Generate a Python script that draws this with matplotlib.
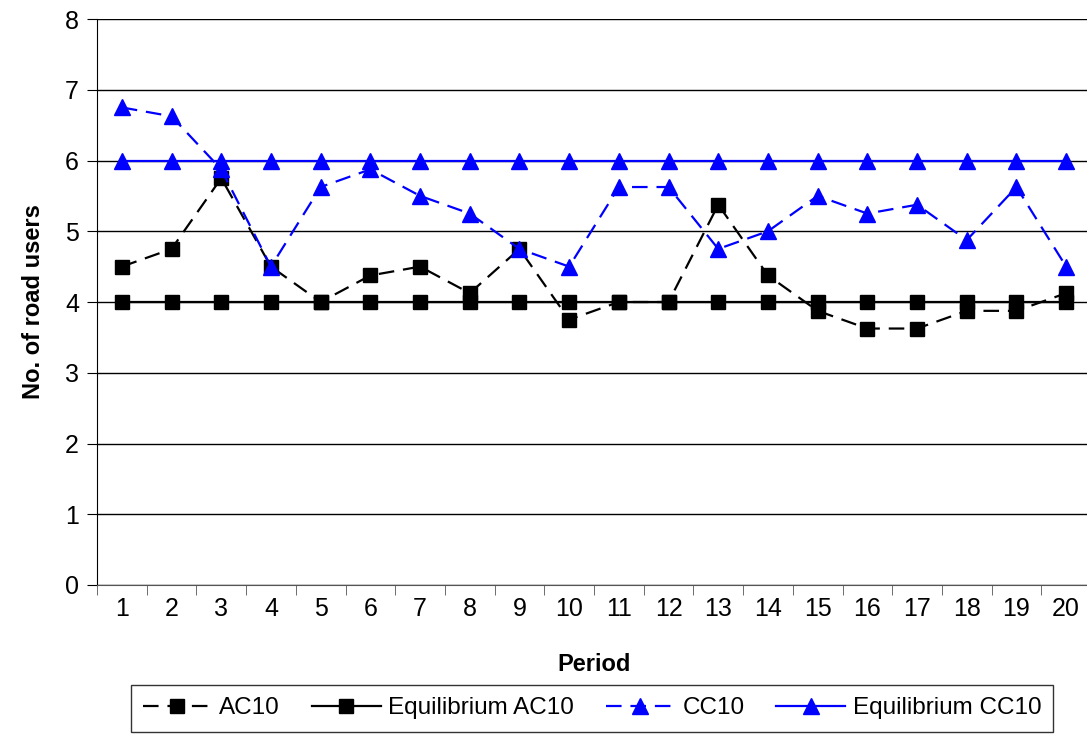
"""Road users per period: AC10 / CC10 against their equilibrium levels."""

import matplotlib

matplotlib.use("Agg")
import matplotlib.pyplot as plt

plt.rcParams["font.family"] = ["Liberation Sans", "DejaVu Sans"]

periods = list(range(1, 21))
ac10 = [4.5, 4.75, 5.75, 4.5, 4.0, 4.375, 4.5, 4.125, 4.75, 3.75,
        4.0, 4.0, 5.375, 4.375, 3.875, 3.625, 3.625, 3.875, 3.875, 4.125]
eq_ac10 = [4.0] * 20
cc10 = [6.75, 6.625, 5.875, 4.5, 5.625, 5.875, 5.5, 5.25, 4.75, 4.5,
        5.625, 5.625, 4.75, 5.0, 5.5, 5.25, 5.375, 4.875, 5.625, 4.5]
eq_cc10 = [6.0] * 20

fig = plt.figure(figsize=(10.87, 7.34), dpi=100)
ax = fig.add_axes([97 / 1087, 149 / 734, 994 / 1087, 566 / 734])

ax.plot(periods, ac10, color="black", lw=1.6, dashes=(7, 4),
        marker="s", ms=10, label="AC10", zorder=3)
ax.plot(periods, eq_ac10, color="black", lw=1.6,
        marker="s", ms=10, label="Equilibrium AC10", zorder=3)
ax.plot(periods, cc10, color="blue", lw=1.6, dashes=(7, 4),
        marker="^", ms=11, label="CC10", zorder=4)
ax.plot(periods, eq_cc10, color="blue", lw=1.6,
        marker="^", ms=11, label="Equilibrium CC10", zorder=4)

ax.set_xlim(0.5, 20.5)
ax.set_ylim(0, 8)
ax.set_yticks(range(0, 9))
ax.yaxis.grid(True, color="black", lw=1)
ax.set_axisbelow(True)

ax.set_xticks(periods)
ax.set_xticks([p + 0.5 for p in range(0, 20)], minor=True)
ax.tick_params(axis="x", which="major", length=0, pad=9, labelsize=18)
ax.tick_params(axis="x", which="minor", length=7, color="#555555")
ax.tick_params(axis="y", length=7, labelsize=18, pad=6)

for side in ("top", "right"):
    ax.spines[side].set_visible(False)
ax.spines["bottom"].set_color("#555555")

ax.set_xlabel("Period", fontsize=17, fontweight="bold", labelpad=23)
ax.set_ylabel("No. of road users", fontsize=17, fontweight="bold", labelpad=14)

leg = fig.legend(loc="lower center", bbox_to_anchor=(0.5446, 0.0), ncol=4,
                 fontsize=17.5, frameon=True, fancybox=False, edgecolor="black",
                 handlelength=2.85, handletextpad=0.3, columnspacing=1.3,
                 borderpad=0.5, borderaxespad=0.1)
leg.get_frame().set_linewidth(1)

fig.savefig("out.png", dpi=100)
